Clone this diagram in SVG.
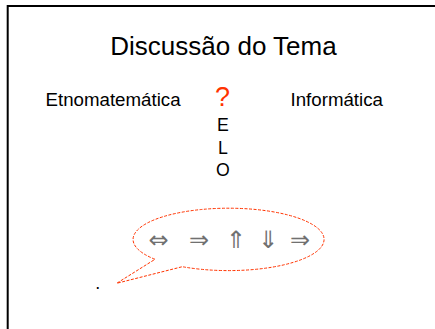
<svg xmlns="http://www.w3.org/2000/svg" width="435" height="329" viewBox="0 0 435 329">
<style>
.t{font-family:"Liberation Sans",Arial,sans-serif;fill:#000}
.ar{font-family:"DejaVu Sans","Liberation Sans",sans-serif;fill:#707070;font-size:24px;text-anchor:middle}
</style>
<rect width="435" height="329" fill="#fff"/>
<path d="M7.7 340 V6 H440" fill="none" stroke="#000" stroke-width="2"/>
<g id="title"><text class="t" x="223.5" y="55" font-size="26" text-anchor="middle">Discussão do Tema</text></g>
<g id="etno"><text class="t" x="45.5" y="106" font-size="18.7">Etnomatemática</text></g>
<g id="info"><text class="t" x="290.5" y="106" font-size="18.7">Informática</text></g>
<g id="question"><text x="222.5" y="106" font-size="27" text-anchor="middle" font-family="Liberation Sans,Arial,sans-serif" fill="#ff3300">?</text></g>
<g id="elo">
<text class="t" x="223" y="131" font-size="17.7" text-anchor="middle">E</text>
<text class="t" x="223" y="153.5" font-size="17.7" text-anchor="middle">L</text>
<text class="t" x="223" y="176" font-size="17.7" text-anchor="middle">O</text>
</g>
<g id="callout">
<path d="M155 259.3 A95.5 31.2 0 1 1 182.3 266.7 L116.7 283.3 Z" fill="none" stroke="#ff3300" stroke-width="1" stroke-dasharray="3 1.5"/>
<text class="ar" x="158.5" y="248">⇔</text>
<text class="ar" x="199" y="248">⇒</text>
<text class="ar" x="235.7" y="248">⇑</text>
<text class="ar" x="268" y="248">⇓</text>
<text class="ar" x="300" y="248">⇒</text>
</g>
<g id="dot"><text class="t" x="97.7" y="289" font-size="18" text-anchor="middle">.</text></g>
</svg>
